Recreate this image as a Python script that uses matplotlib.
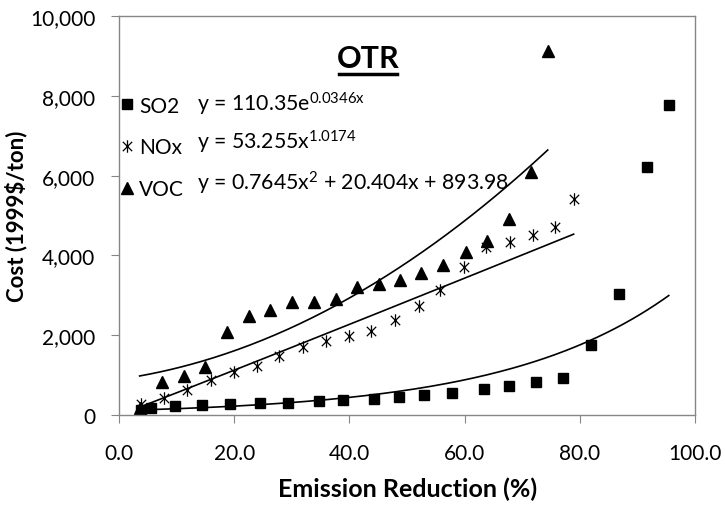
import numpy as np
import matplotlib
matplotlib.use("Agg")
import matplotlib.pyplot as plt
from matplotlib.path import Path
from matplotlib.ticker import FuncFormatter

plt.rcParams['font.family'] = ['Lato', 'DejaVu Sans']
plt.rcParams['mathtext.fontset'] = 'custom'
plt.rcParams['mathtext.rm'] = 'Lato'

# emission reduction (%) and cost (1999$/ton)
so2_x = [3.9, 5.6, 9.7, 14.4, 19.2, 24.4, 29.3, 34.7, 38.8, 44.3, 48.6,
         52.9, 57.8, 63.3, 67.7, 72.3, 77.0, 81.9, 86.8, 91.6, 95.4]
so2_y = [130, 183, 218, 250, 275, 292, 310, 351, 376, 400, 443,
         501, 543, 651, 735, 835, 927, 1747, 3033, 6224, 7770]

nox_x = [3.9, 7.9, 11.9, 16.0, 19.9, 23.9, 27.8, 31.9, 35.9, 39.9, 43.8,
         47.9, 52.0, 55.7, 59.8, 63.7, 67.9, 71.8, 75.7, 78.9]
nox_y = [280, 418, 634, 877, 1086, 1236, 1486, 1712, 1862, 1988, 2097,
         2370, 2740, 3133, 3717, 4203, 4328, 4511, 4719, 5414]

voc_x = [3.6, 7.5, 11.3, 15.0, 18.8, 22.6, 26.3, 30.0, 33.9, 37.6, 41.3,
         45.1, 48.8, 52.5, 56.3, 60.2, 63.8, 67.7, 71.5, 74.4]
voc_y = [170, 819, 986, 1195, 2072, 2473, 2632, 2840, 2840, 2907, 3200,
         3283, 3391, 3551, 3759, 4078, 4369, 4912, 6083, 9130]

# trendline coefficients from the labels
so2_a, so2_b = 110.35, 0.0346
nox_a, nox_b = 53.255, 1.0174
voc_c = [0.7645, 20.404, 893.98]

star = Path([(0, -1), (0, 1), (-0.75, -0.75), (0.75, 0.75), (-0.75, 0.75), (0.75, -0.75)],
            [Path.MOVETO, Path.LINETO, Path.MOVETO, Path.LINETO, Path.MOVETO, Path.LINETO])

fig = plt.figure(figsize=(7.25, 5.06), dpi=100)
ax = fig.add_axes([0.164, 0.178, 0.795, 0.788])

h1, = ax.plot(so2_x, so2_y, 's', color='black', ms=6.5, ls='none', label='SO2')
h2, = ax.plot(nox_x, nox_y, marker=star, color='black', ms=9, mew=0.9, ls='none', label='NOx')
h3, = ax.plot(voc_x, voc_y, '^', color='black', ms=9, ls='none', label='VOC')

xs = np.linspace(so2_x[0], so2_x[-1], 200)
ax.plot(xs, so2_a * np.exp(so2_b * xs), color='black', lw=1.2)
xn = np.linspace(nox_x[0], nox_x[-1], 200)
ax.plot(xn, nox_a * xn ** nox_b, color='black', lw=1.2)
xv = np.linspace(voc_x[0], voc_x[-1], 200)
ax.plot(xv, np.polyval(voc_c, xv), color='black', lw=1.2)

ax.set_xlim(0, 100)
ax.set_ylim(0, 10000)
ax.set_xticks(np.arange(0, 101, 20))
ax.set_yticks(np.arange(0, 10001, 2000))
ax.xaxis.set_major_formatter(FuncFormatter(lambda v, p: f"{v:.1f}"))
ax.yaxis.set_major_formatter(FuncFormatter(lambda v, p: f"{v:,.0f}"))
ax.tick_params(labelsize=15, length=6, color='#868686')
ax.tick_params(axis='y', pad=11)
ax.tick_params(axis='x', pad=14)
for s in ax.spines.values():
    s.set_color('#868686')
    s.set_linewidth(1.0)

ax.set_xlabel('Emission Reduction (%)', fontsize=18, fontweight='bold', labelpad=10)
ax.set_ylabel('Cost (1999$/ton)', fontsize=16, fontweight='bold', labelpad=2)

ax.text(43.2, 8947, 'OTR', fontsize=22, fontweight='bold', ha='center', va='center')
ax.plot([38.2, 48.3], [8546, 8546], color='black', lw=2.5)

leg = ax.legend(handles=[h1, h2, h3], loc='upper left', bbox_to_anchor=(-0.012, 0.822),
                frameon=False, fontsize=15, handlelength=0.6, handletextpad=0.3,
                labelspacing=1.05, borderaxespad=0)

ax.text(13.5, 7820, r'y = 110.35e$\mathregular{^{0.0346x}}$', fontsize=15.3, va='center')
ax.text(13.5, 6870, r'y = 53.255x$\mathregular{^{1.0174}}$', fontsize=15.3, va='center')
ax.text(13.5, 5840, r'y = 0.7645x$\mathregular{^{2}}$ + 20.404x + 893.98', fontsize=15.3, va='center')

fig.savefig('out.png', dpi=100)
